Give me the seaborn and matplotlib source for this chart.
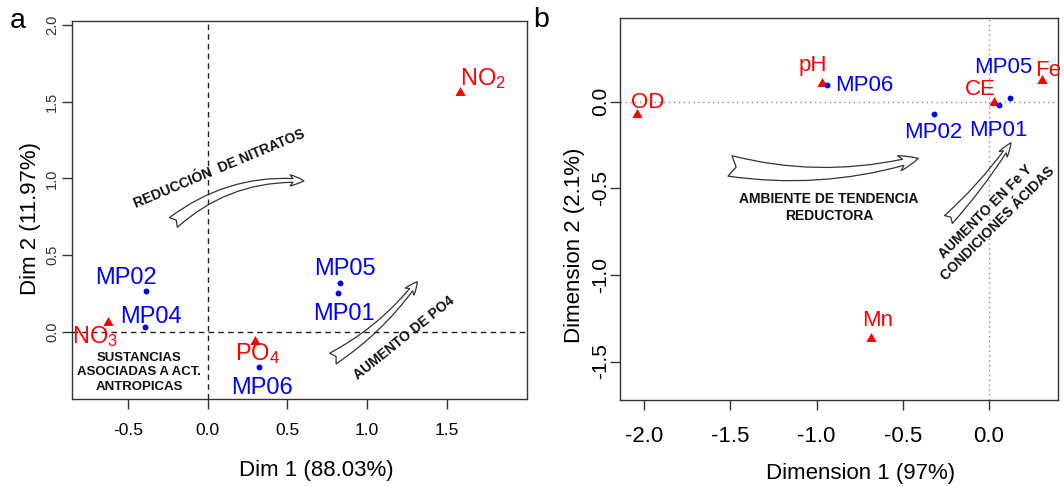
import numpy as np
import pandas as pd
import matplotlib
matplotlib.use("Agg")
import matplotlib.pyplot as plt
from matplotlib.patches import FancyArrowPatch
from matplotlib.ticker import FormatStrFormatter
import seaborn as sns

# ---------------- data ----------------
# Panel a
var_labels_a = ["NO$_2$", "NO$_3$", "PO$_4$"]
var_x_a = [1.579, -0.627, 0.295]
var_y_a = [1.572, 0.072, -0.054]
site_labels_a = ["MP01", "MP02", "MP04", "MP05", "MP06"]
site_x_a = [0.815, -0.385, -0.391, 0.830, 0.321]
site_y_a = [0.250, 0.264, 0.033, 0.315, -0.228]

# Panel b
var_labels_b = ["OD", "pH", "CE", "Fe", "Mn"]
var_x_b = [-2.044, -0.969, 0.030, 0.310, -0.687]
var_y_b = [-0.067, 0.115, 0.002, 0.129, -1.356]
site_labels_b = ["MP01", "MP02", "MP05", "MP06"]
site_x_b = [0.059, -0.318, 0.122, -0.937]
site_y_b = [-0.019, -0.069, 0.019, 0.096]

xticks_a = [-0.5, 0.0, 0.5, 1.0, 1.5]
yticks_a = [0.0, 0.5, 1.0, 1.5, 2.0]
xticks_b = [-2.0, -1.5, -1.0, -0.5, 0.0]
yticks_b = [-1.5, -1.0, -0.5, 0.0]

# label offsets (pixels, ha)
off_a = {"NO$_2$": (0, 6, "left"), "NO$_3$": (-12.7, -22.3, "center"),
         "PO$_4$": (2.6, -19.7, "center"), "MP02": (-20.7, 7.3, "center"),
         "MP04": (5.8, 3.7, "center"), "MP05": (5, 8.6, "center"),
         "MP01": (6.7, -26.7, "center"), "MP06": (2.7, -27.3, "center")}
off_b = {"OD": (10.7, 5.3, "center"), "pH": (-8.8, 11.2, "center"),
         "MP06": (8, -5.7, "left"), "Mn": (7, 10.4, "center"),
         "MP05": (-6.7, 25.3, "center"), "Fe": (6, 3, "center"),
         "CE": (-14.3, 6.3, "center"), "MP02": (-1.2, -24.7, "center"),
         "MP01": (-1, -31.3, "center")}

RED = "#FF0000"
BLUE = "#0000FF"

sns.set_style("white")
plt.rcParams["font.family"] = ["Liberation Sans", "DejaVu Sans"]
plt.rcParams["mathtext.fontset"] = "custom"
plt.rcParams["mathtext.rm"] = "Liberation Sans"
plt.rcParams["mathtext.it"] = "Liberation Sans:italic"
plt.rcParams["mathtext.bf"] = "Liberation Sans:bold"
plt.rcParams["axes.unicode_minus"] = False
plt.rcParams["text.color"] = "black"
plt.rcParams["axes.labelcolor"] = "black"
plt.rcParams["xtick.color"] = "black"
plt.rcParams["ytick.color"] = "black"

tri = [(-1, -0.866), (1, -0.866), (0, 0.866)]

fig = plt.figure(figsize=(10.64, 4.87), dpi=100)
axA = fig.add_axes([0.0673, 0.1807, 0.4277, 0.7762])
axB = fig.add_axes([0.5827, 0.1793, 0.4119, 0.7831])

def draw_points(ax, vx, vy, vl, sx, sy, sl, offs, fs):
    dv = pd.DataFrame({"x": vx, "y": vy, "label": vl})
    ds = pd.DataFrame({"x": sx, "y": sy, "label": sl})
    sns.scatterplot(data=dv, x="x", y="y", ax=ax, color=RED, marker=tri,
                    s=55, linewidth=0, zorder=4, legend=False)
    sns.scatterplot(data=ds, x="x", y="y", ax=ax, color=BLUE, marker="o",
                    s=18, linewidth=0, zorder=4, legend=False)
    for df, col in ((dv, RED), (ds, BLUE)):
        for _, r in df.iterrows():
            dx, dy, ha = offs[r["label"]]
            ax.annotate(r["label"], (r["x"], r["y"]), xytext=(dx, dy),
                        textcoords="offset pixels", ha=ha, va="baseline",
                        color=col, fontsize=fs, zorder=5,
                        annotation_clip=False)

# ---------------- panel a ----------------
axA.axvline(0, color="#222222", lw=1, ls=(0, (4, 3)), zorder=2)
axA.axhline(0, color="#222222", lw=1, ls=(0, (4, 3)), zorder=2)
draw_points(axA, var_x_a, var_y_a, var_labels_a, site_x_a, site_y_a,
            site_labels_a, off_a, 17)
axA.set_xlim(-0.853, 2.0)
axA.set_ylim(-0.439, 2.026)
axA.set_xticks(xticks_a)
axA.set_yticks(yticks_a)
axA.xaxis.set_major_formatter(FormatStrFormatter("%.1f"))
axA.yaxis.set_major_formatter(FormatStrFormatter("%.1f"))
axA.tick_params(axis="x", direction="out", length=7, width=1, color="#333333",
                pad=10.5, labelsize=12.5, bottom=True, labelcolor="black")
axA.tick_params(axis="y", direction="out", length=7, width=1, color="#333333",
                pad=2, labelsize=10.5, left=True, labelcolor="#333333")
plt.setp(axA.get_yticklabels(), rotation=90, va="center")
axA.set_xlabel("Dim 1 (88.03%)", fontsize=16, color="black")
axA.set_ylabel("Dim 2 (11.97%)", fontsize=16, color="black")
axA.xaxis.set_label_coords(0.538, -0.188)
axA.xaxis.label.set_va("center")
axA.yaxis.set_label_coords(-0.0914, 0.478)
axA.yaxis.label.set_va("center")

bold = dict(fontweight="bold", color="#111111", fontsize=10,
            rotation_mode="anchor", ha="center", va="center", zorder=3)
axA.text(0.071, 1.060, "REDUCCIÓN  DE NITRATOS", rotation=22.7, **bold)
axA.text(-0.428, -0.265, "SUSTANCIAS\nASOCIADAS A ACT.\nANTROPICAS",
         linespacing=1.25, multialignment="center", **{**bold, "fontsize": 9.5})
axA.text(1.231, -0.038, "AUMENTO DE PO4", rotation=38.7, **bold)

axA.add_patch(FancyArrowPatch((-0.215, 0.712), (0.604, 0.983),
              arrowstyle="fancy,head_length=10,head_width=8,tail_width=9",
              connectionstyle="arc3,rad=-0.2", shrinkA=0, shrinkB=0,
              facecolor="none", edgecolor="#333333", lw=0.9, zorder=3))
axA.add_patch(FancyArrowPatch((0.785, -0.175), (1.314, 0.326),
              arrowstyle="fancy,head_length=9,head_width=8,tail_width=9",
              connectionstyle="arc3,rad=0.1", shrinkA=0, shrinkB=0,
              facecolor="none", edgecolor="#333333", lw=0.9, zorder=3))

# ---------------- panel b ----------------
axB.axvline(0, color="#888888", lw=1, ls=(0, (1, 2.5)), zorder=2)
axB.axhline(0, color="#888888", lw=1, ls=(0, (1, 2.5)), zorder=2)
draw_points(axB, var_x_b, var_y_b, var_labels_b, site_x_b, site_y_b,
            site_labels_b, off_b, 16)
axB.set_xlim(-2.140, 0.402)
axB.set_ylim(-1.720, 0.481)
axB.set_xticks(xticks_b)
axB.set_yticks(yticks_b)
axB.xaxis.set_major_formatter(FormatStrFormatter("%.1f"))
axB.yaxis.set_major_formatter(FormatStrFormatter("%.1f"))
axB.tick_params(axis="x", direction="out", length=7, width=1, color="#333333",
                pad=11.7, labelsize=16, bottom=True, labelcolor="black")
axB.tick_params(axis="y", direction="out", length=7, width=1, color="#333333",
                pad=0, labelsize=15, left=True, labelcolor="black")
plt.setp(axB.get_yticklabels(), rotation=90, va="center")
axB.set_xlabel("Dimension 1 (97%)", fontsize=16, color="black")
axB.set_ylabel("Dimension 2 (2.1%)", fontsize=16, color="black")
axB.xaxis.set_label_coords(0.549, -0.193)
axB.xaxis.label.set_va("center")
axB.yaxis.set_label_coords(-0.1045, 0.4035)
axB.yaxis.label.set_va("center")

axB.text(-0.927, -0.609, "AMBIENTE DE TENDENCIA\nREDUCTORA", linespacing=1.3,
         multialignment="center", **bold)
axB.text(0.017, -0.668, "AUMENTO EN Fe Y\nCONDICIONES ÁCIDAS", rotation=45,
         linespacing=1.3, multialignment="center", **bold)

axB.add_patch(FancyArrowPatch((-1.502, -0.371), (-0.410, -0.327),
              arrowstyle="fancy,head_length=14,head_width=11,tail_width=15",
              connectionstyle="arc3,rad=0.12", shrinkA=0, shrinkB=0,
              facecolor="none", edgecolor="#333333", lw=0.9, zorder=3))
axB.add_patch(FancyArrowPatch((-0.235, -0.680), (0.128, -0.237),
              arrowstyle="fancy,head_length=10,head_width=7,tail_width=8",
              connectionstyle="arc3,rad=0.05", shrinkA=0, shrinkB=0,
              facecolor="none", edgecolor="#333333", lw=0.9, zorder=3))

for ax in (axA, axB):
    for sp in ax.spines.values():
        sp.set_visible(True)
        sp.set_color("#333333")
        sp.set_linewidth(1)
    ax.grid(False)

fig.text(0.0088, 0.942, "a", fontsize=20.5, va="baseline", ha="left", color="black")
fig.text(0.5012, 0.945, "b", fontsize=20.5, va="baseline", ha="left", color="black")

fig.savefig("out.png", dpi=100)
